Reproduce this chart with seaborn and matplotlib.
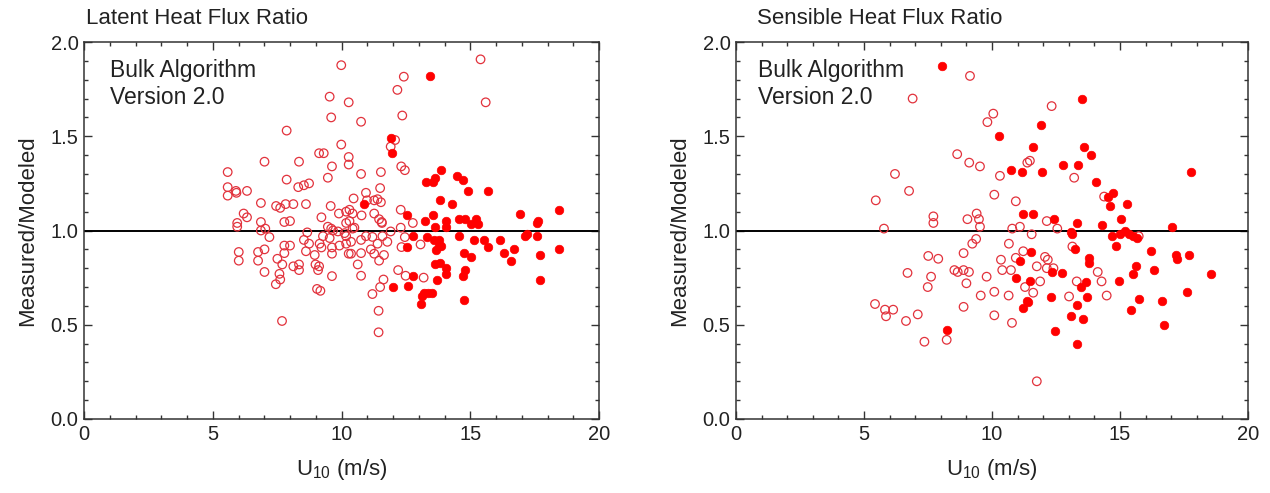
import matplotlib
matplotlib.use("Agg")
import matplotlib.pyplot as plt
from matplotlib.ticker import MultipleLocator
import pandas as pd
import seaborn as sns

# --- latent heat flux ratio: open = lower winds, filled = high-wind set ---
lat_open_x = [5.58, 5.58, 5.58, 5.9, 5.92, 6.33, 5.95, 5.95, 6.01, 6.01, 6.2, 6.33,
              7.01, 6.87, 6.87, 6.87, 7.04, 7.2, 6.76, 6.76, 7.01, 7.01, 7.46, 7.62, 7.51, 7.7, 7.59, 7.62, 7.45, 7.69,
              7.87, 7.87, 8.35, 8.32, 8.54, 8.74, 7.83, 8.13, 8.62, 7.78, 8.0, 7.78, 8.0, 7.78, 8.13, 8.35, 8.35, 8.54, 8.67, 8.74, 8.62,
              9.13, 9.31, 9.54, 9.6, 9.63, 9.47, 9.58, 9.22, 8.96, 8.99, 9.13, 9.09, 9.05, 9.18, 9.63, 9.28, 9.47, 9.6, 9.54, 9.15, 9.22, 9.63, 9.63, 9.67,
              9.99, 10.28, 9.99, 10.28, 10.28, 9.9, 10.18, 10.31, 10.31, 10.47, 10.43, 9.86, 9.92, 10.18, 10.28, 10.18, 10.12, 10.18, 10.37, 10.5, 10.37, 10.43,
              10.76, 10.76, 11.53, 10.95, 10.99, 11.5, 11.27, 11.53, 11.4, 10.78, 11.27, 11.56, 11.46, 10.76, 10.95, 11.2, 11.4, 11.59, 11.78, 11.57,
              10.76, 11.14, 11.27, 11.46, 11.65, 10.63, 10.76, 11.63, 11.5, 11.2, 11.44, 11.44,
              12.08, 11.91, 12.42, 12.17, 12.36, 12.32, 12.46, 12.3, 12.3, 12.77, 11.91, 12.46, 12.33, 13.07, 12.2, 12.49, 13.19,
              15.4, 15.6]
lat_open_y = [1.31, 1.23, 1.185, 1.21, 1.20, 1.21, 1.04, 1.02, 0.886, 0.84, 1.09, 1.07,
              1.365, 1.146, 1.045, 1.0, 1.01, 0.965, 0.886, 0.84, 0.90, 0.78, 1.13, 1.12, 0.85, 0.82, 0.77, 0.74, 0.715, 0.52,
              1.53, 1.27, 1.365, 1.23, 1.24, 1.25, 1.14, 1.14, 1.14, 1.045, 1.05, 0.92, 0.92, 0.88, 0.81, 0.82, 0.79, 0.95, 0.99, 0.93, 0.89,
              1.41, 1.41, 1.71, 1.60, 1.34, 1.28, 1.13, 1.07, 0.87, 0.82, 0.81, 0.79, 0.69, 0.68, 0.758, 0.97, 1.02, 1.01, 0.96, 0.93, 0.91, 0.91, 0.877, 1.0,
              1.877, 1.68, 1.456, 1.39, 1.35, 1.09, 1.10, 1.11, 1.05, 1.17, 1.09, 0.995, 0.92, 0.93, 0.877, 1.04, 0.986, 0.97, 0.94, 1.015, 0.877, 1.01,
              1.577, 1.30, 1.31, 1.2, 1.16, 1.225, 1.16, 1.15, 1.166, 1.08, 1.09, 1.045, 1.06, 0.95, 0.97, 0.966, 0.93, 0.97, 0.94, 1.04,
              0.88, 0.90, 0.877, 0.84, 0.87, 0.82, 0.76, 0.74, 0.70, 0.663, 0.574, 0.46,
              1.48, 1.445, 1.816, 1.746, 1.61, 1.34, 1.32, 1.11, 1.015, 1.04, 0.995, 0.965, 0.912, 0.926, 0.79, 0.76, 0.75,
              1.908, 1.68]
lat_fill_x = [10.86, 11.94, 11.97, 13.45,
              13.86, 13.29, 13.55, 13.62, 14.5, 14.73, 14.92, 15.69,
              13.81, 14.28, 12.55, 13.54, 13.26, 14.05, 14.05, 13.64,
              14.58, 14.8, 15.01, 15.24, 15.31,
              12.78, 13.32, 13.58, 13.77, 13.86, 13.68, 13.77,
              12.55, 14.58, 15.14, 15.53, 15.69, 14.76, 15.01,
              13.64, 13.81, 14.06, 14.06, 14.8, 14.73, 12.78, 13.7,
              12.01, 12.6, 13.19, 13.35, 13.51, 13.13, 13.07, 14.77,
              16.95, 17.62, 18.45, 17.59, 17.58, 17.7, 17.7, 18.45,
              17.13, 17.19, 16.59, 16.69, 16.3, 16.17]
lat_fill_y = [1.14, 1.49, 1.41, 1.82,
              1.32, 1.255, 1.255, 1.28, 1.29, 1.27, 1.21, 1.21,
              1.16, 1.14, 1.08, 1.08, 1.05, 1.05, 1.02, 1.02,
              1.06, 1.06, 1.035, 1.06, 1.035,
              0.97, 0.965, 0.95, 0.95, 0.92, 0.895, 0.92,
              0.91, 0.97, 0.95, 0.95, 0.91, 0.88, 0.86,
              0.82, 0.83, 0.80, 0.77, 0.79, 0.76, 0.76, 0.74,
              0.70, 0.705, 0.67, 0.667, 0.667, 0.65, 0.61, 0.63,
              1.085, 1.05, 1.11, 1.04, 0.97, 0.87, 0.74, 0.90,
              0.97, 0.98, 0.84, 0.90, 0.88, 0.947]

# --- sensible heat flux ratio ---
sen_open_x = [9.14, 6.9, 10.05, 9.82, 8.64, 9.11, 9.53, 6.21, 6.76, 5.46, 7.71, 7.71, 9.4, 9.04, 9.49, 9.53, 5.78, 10.09,
              12.33, 11.48, 11.38, 10.31, 13.21, 10.93, 14.38, 12.14, 10.79, 11.09, 12.55, 11.55,
              15.73, 13.14, 10.66, 11.22, 10.35, 10.93, 12.07, 12.18,
              10.4, 10.74, 11.75, 12.14, 12.4, 14.13, 14.28, 14.48,
              11.88, 11.29, 11.61, 13.31, 13.01, 10.65, 10.78, 11.75,
              9.38, 9.23, 8.89, 7.51, 7.9, 6.7, 7.62, 7.49, 8.53, 8.66, 8.89, 9.1, 9.0, 9.79, 10.09, 9.56, 8.89,
              5.43, 5.82, 6.14, 5.86, 6.64, 7.1, 7.36, 8.23, 10.09]
sen_open_y = [1.82, 1.70, 1.62, 1.575, 1.405, 1.36, 1.34, 1.30, 1.21, 1.16, 1.075, 1.04, 1.09, 1.06, 1.06, 1.02, 1.01, 1.19,
              1.66, 1.37, 1.36, 1.29, 1.28, 1.155, 1.18, 1.05, 1.01, 1.02, 1.01, 0.98,
              0.97, 0.915, 0.93, 0.89, 0.845, 0.855, 0.86, 0.845,
              0.79, 0.79, 0.81, 0.80, 0.80, 0.78, 0.73, 0.655,
              0.73, 0.70, 0.67, 0.73, 0.65, 0.655, 0.51, 0.20,
              0.955, 0.93, 0.88, 0.865, 0.85, 0.775, 0.755, 0.70, 0.79, 0.78, 0.79, 0.78, 0.72, 0.755, 0.675, 0.655, 0.595,
              0.61, 0.58, 0.58, 0.545, 0.52, 0.555, 0.41, 0.42, 0.55]
sen_fill_x = [8.04, 13.5, 11.91, 10.29, 11.61, 13.59, 13.85, 10.73, 11.18, 11.96, 12.79, 13.35, 17.77, 14.06,
              14.52, 14.74, 14.61, 15.29, 11.2, 11.61, 12.43, 13.31, 14.28, 15.03, 17.02, 15.2,
              13.09, 13.14, 14.69, 15.01, 15.34, 15.51, 15.66, 14.83, 13.24, 11.51, 11.09, 13.8, 13.8,
              16.21, 17.18, 17.24, 17.7,
              12.33, 12.75, 15.63, 15.52, 16.34, 18.54, 14.96, 10.93, 11.48, 13.66, 13.48, 13.72, 12.29,
              11.36, 11.42, 11.22, 13.31, 17.63, 15.74, 15.42, 16.65, 16.73, 13.09, 13.54, 12.46, 13.33, 8.25]
sen_fill_y = [1.875, 1.70, 1.56, 1.50, 1.445, 1.445, 1.40, 1.32, 1.31, 1.31, 1.35, 1.35, 1.31, 1.255,
              1.18, 1.20, 1.13, 1.14, 1.085, 1.09, 1.06, 1.04, 1.03, 1.06, 1.02, 1.0,
              0.99, 0.98, 0.97, 0.98, 0.98, 0.97, 0.96, 0.92, 0.90, 0.885, 0.84, 0.855, 0.83,
              0.89, 0.87, 0.85, 0.87,
              0.78, 0.775, 0.81, 0.77, 0.79, 0.77, 0.73, 0.75, 0.73, 0.725, 0.70, 0.645, 0.645,
              0.625, 0.62, 0.59, 0.605, 0.675, 0.635, 0.58, 0.625, 0.50, 0.545, 0.53, 0.465, 0.40, 0.47]

titles = ["Latent Heat Flux Ratio", "Sensible Heat Flux Ratio"]
note = "Bulk Algorithm\nVersion 2.0"

OPEN_RED = "#e2323c"
FILL_RED = "#ff0000"

sns.set_theme(style="ticks")
plt.rcParams["font.family"] = ["Liberation Sans", "DejaVu Sans"]
plt.rcParams["mathtext.fontset"] = "custom"
plt.rcParams["mathtext.rm"] = "Liberation Sans"

fig = plt.figure(figsize=(12.7, 4.93), dpi=100)
ax_l = fig.add_axes([84 / 1270, 74 / 493, 515 / 1270, 377 / 493])
ax_r = fig.add_axes([736 / 1270, 74 / 493, 512 / 1270, 377 / 493])

panels = [
    (ax_l, lat_open_x, lat_open_y, lat_fill_x, lat_fill_y, 86, 0.05),
    (ax_r, sen_open_x, sen_open_y, sen_fill_x, sen_fill_y, 757, 0.043),
]

for i, (ax, ox, oy, fx, fy, title_px, note_x) in enumerate(panels):
    df_open = pd.DataFrame({"u10": ox, "ratio": oy})
    df_fill = pd.DataFrame({"u10": fx, "ratio": fy})
    ax.axhline(1.0, color="black", lw=1.4, zorder=1)
    sns.scatterplot(data=df_open, x="u10", y="ratio", ax=ax, s=38,
                    facecolors="none", edgecolor=OPEN_RED, linewidth=0.9, zorder=3)
    sns.scatterplot(data=df_fill, x="u10", y="ratio", ax=ax, s=38,
                    color=FILL_RED, edgecolor=FILL_RED, linewidth=0.5, zorder=4)

    ax.set_xlim(0, 20)
    ax.set_ylim(0, 2.0)
    ax.xaxis.set_major_locator(MultipleLocator(5))
    ax.xaxis.set_minor_locator(MultipleLocator(1))
    ax.yaxis.set_major_locator(MultipleLocator(0.5))
    ax.yaxis.set_minor_locator(MultipleLocator(0.1))
    ax.yaxis.set_major_formatter(matplotlib.ticker.FormatStrFormatter("%.1f"))
    ax.tick_params(which="both", direction="in", top=True, right=True,
                   color="#333333", width=1.0, labelsize=14.5, labelcolor="#222222")
    ax.tick_params(which="major", length=6, pad=4)
    ax.tick_params(which="minor", length=3)
    for sp in ax.spines.values():
        sp.set_visible(True)
        sp.set_color("#333333")
        sp.set_linewidth(1.1)

    ax.set_xlabel(r"U$_{10}$ (m/s)", fontsize=16, color="#222222", labelpad=10)
    ax.set_ylabel("Measured/Modeled", fontsize=16, color="#222222", labelpad=9)
    ax.text(note_x, 0.955, note, transform=ax.transAxes, ha="left", va="top",
            fontsize=16.5, color="#222222", linespacing=1.2)
    fig.text(title_px / 1270, 1 - 18 / 493, titles[i], ha="left", va="center",
             fontsize=16, color="#222222")

fig.savefig("out.png", dpi=100)
